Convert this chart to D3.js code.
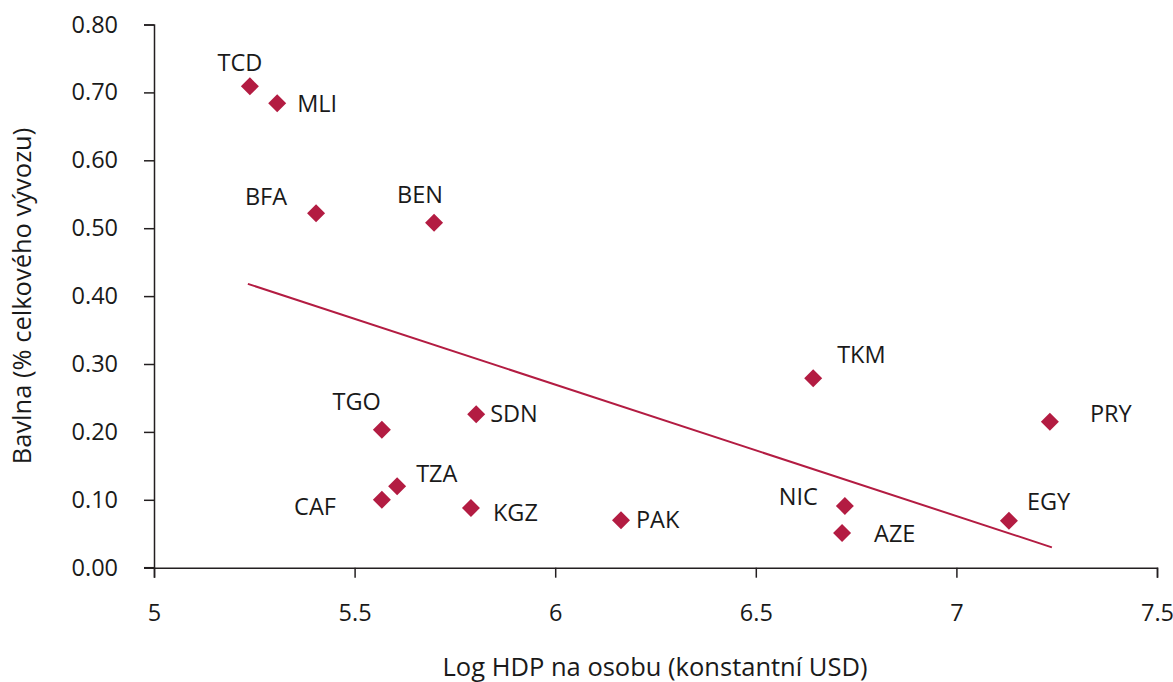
<!DOCTYPE html>
<html>
<head>
<meta charset="utf-8">
<script src="https://cdn.jsdelivr.net/npm/d3@7"></script>
<style>
  body { margin: 0; background: #fff; }
  svg text { font-family: "Open Sans", "Noto Sans", sans-serif; fill: #1a1a1a; }
</style>
</head>
<body>
<svg id="chart" width="1173" height="682"></svg>
<script>
// --- data ---
const countries = ["TCD", "MLI", "BFA", "BEN", "TKM", "PRY", "TGO", "SDN", "TZA", "CAF", "KGZ", "PAK", "NIC", "AZE", "EGY"];
const logGdp = [5.239, 5.307, 5.404, 5.698, 6.643, 7.233, 5.568, 5.803, 5.606, 5.568, 5.790, 6.164, 6.722, 6.715, 7.131];
const cotton = [0.709, 0.684, 0.522, 0.508, 0.279, 0.215, 0.203, 0.226, 0.120, 0.100, 0.088, 0.070, 0.091, 0.051, 0.069];
const trendX = [5.234, 7.238];
const trendY = [0.418, 0.030];
const xTicks = [5, 5.5, 6, 6.5, 7, 7.5];
const yTicks = [0, 0.1, 0.2, 0.3, 0.4, 0.5, 0.6, 0.7, 0.8];

// label placement (dx, dy from marker, anchor)
const labelPos = {
  TCD: [-10, -24, "middle"], MLI: [20, 1, "start"], BFA: [-29, -16, "end"], BEN: [-14, -28, "middle"],
  TKM: [24, -23, "start"], PRY: [40, -8, "start"], TGO: [-1, -28, "end"], SDN: [14, 0, "start"],
  TZA: [19, -12, "start"], CAF: [-46, 7, "end"], KGZ: [22, 5, "start"], PAK: [15, 0, "start"],
  NIC: [-27, -9, "end"], AZE: [32, 1, "start"], EGY: [18, -19, "start"]
};

const color = "#b31c42";
const axisColor = "#231f20";
const fs = 23.5;

const svg = d3.select("#chart");
const x = d3.scaleLinear().domain([5, 7.5]).range([154, 1157]);
const y = d3.scaleLinear().domain([0, 0.8]).range([567.7, 24.5]);

// axes
const gx = svg.append("g")
  .attr("transform", `translate(0,${y(0)})`)
  .call(d3.axisBottom(x).tickValues(xTicks).tickSize(10).tickPadding(27).tickFormat(d3.format("")));
const gy = svg.append("g")
  .attr("transform", `translate(${x(5)},0)`)
  .call(d3.axisLeft(y).tickValues(yTicks).tickSize(10).tickPadding(26).tickFormat(d3.format(".2f")));

[gx, gy].forEach(g => {
  g.select(".domain").attr("stroke", axisColor).attr("stroke-width", 1.5);
  g.selectAll(".tick line").attr("stroke", axisColor).attr("stroke-width", 1.5);
  g.selectAll(".tick text").attr("font-size", fs).attr("fill", "#1a1a1a")
    .style("font-family", "'Open Sans', 'Noto Sans', sans-serif");
});
// extend x axis line left to the y tick length
gx.append("line").attr("x1", x(5) - 10).attr("x2", x(5)).attr("y1", 0).attr("y2", 0)
  .attr("stroke", axisColor).attr("stroke-width", 1.5);

// trend line
svg.append("line")
  .attr("x1", x(trendX[0])).attr("y1", y(trendY[0]))
  .attr("x2", x(trendX[1])).attr("y2", y(trendY[1]))
  .attr("stroke", color).attr("stroke-width", 2);

// points
const pts = countries.map((c, i) => ({ c, x: logGdp[i], y: cotton[i] }));
svg.append("g").selectAll("path").data(pts).join("path")
  .attr("transform", d => `translate(${x(d.x)},${y(d.y)})`)
  .attr("d", "M0,-9L9,0L0,9L-9,0Z")
  .attr("fill", color);

svg.append("g").selectAll("text").data(pts).join("text")
  .attr("x", d => x(d.x) + labelPos[d.c][0])
  .attr("y", d => y(d.y) + labelPos[d.c][1])
  .attr("dy", "0.35em")
  .attr("text-anchor", d => labelPos[d.c][2])
  .attr("font-size", fs)
  .text(d => d.c);

// axis titles
svg.append("text")
  .attr("x", 655).attr("y", 676)
  .attr("text-anchor", "middle").attr("font-size", 25.5)
  .text("Log HDP na osobu (konstantní USD)");
svg.append("text")
  .attr("transform", "translate(31,296) rotate(-90)")
  .attr("text-anchor", "middle").attr("font-size", 25.5)
  .text("Bavlna (% celkového vývozu)");
</script>
</body>
</html>
